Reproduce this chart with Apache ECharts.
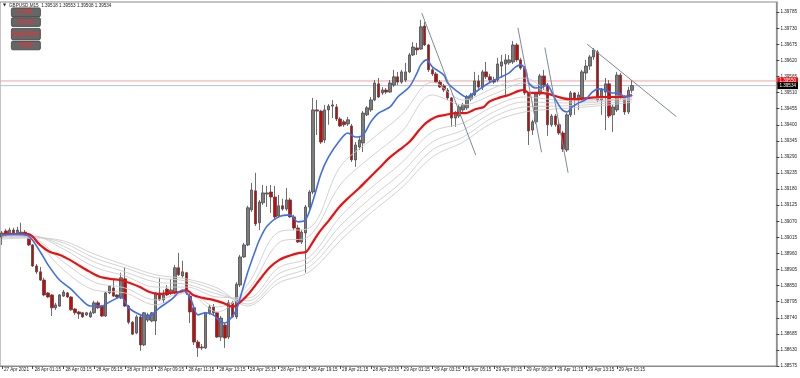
<!DOCTYPE html>
<html><head><meta charset="utf-8">
<script src="https://cdn.jsdelivr.net/npm/echarts@6/dist/echarts.min.js"></script>
<style>html,body{margin:0;padding:0;background:#fff}#c{width:800px;height:378px}</style>
</head><body><div id="c"></div>
<script>
// ---------- data ----------
const symbolTitle = 'GBPUSD,M15';
const lastOHLC = ['1.39518', '1.39553', '1.39508', '1.39534'];
const buttons = ['FSR', 'Pivot', 'SupDem', 'TMA'];
const xTickIdx = [0, 8, 16, 24, 32, 40, 48, 56, 64, 72, 80, 88, 96, 104, 112, 120, 128, 136, 144, 152, 160];
const xTickText = ['27 Apr 2021', '28 Apr 01:15', '28 Apr 03:15', '28 Apr 05:15', '28 Apr 07:15', '28 Apr 09:15',
  '28 Apr 11:15', '28 Apr 13:15', '28 Apr 15:15', '28 Apr 17:15', '28 Apr 19:15', '28 Apr 21:15', '28 Apr 23:15',
  '29 Apr 01:15', '29 Apr 03:15', '29 Apr 05:15', '29 Apr 07:15', '29 Apr 09:15', '29 Apr 11:15', '29 Apr 13:15', '29 Apr 15:15'];
const yTicks = [1.38575, 1.38630, 1.38685, 1.38740, 1.38795, 1.38850, 1.38905, 1.38960, 1.39015, 1.39070, 1.39125,
  1.39180, 1.39235, 1.39290, 1.39345, 1.39400, 1.39455, 1.39510, 1.39565, 1.39620, 1.39675, 1.39730, 1.39785];
const askPrice = 1.39550;
const bidPrice = 1.39534;
// [open, close, low, high]
const ohlc = [
[1.39016,1.39030,1.38989,1.39037],[1.39037,1.39023,1.39016,1.39044],[1.39026,1.39040,1.39023,1.39048],[1.39040,1.39030,1.39023,1.39048],
[1.39026,1.39040,1.39019,1.39051],[1.39026,1.39033,1.39023,1.39065],[1.39033,1.39023,1.39019,1.39040],[1.39023,1.38989,1.38985,1.39030],
[1.38989,1.38917,1.38914,1.38992],[1.38917,1.38897,1.38890,1.38924],[1.38897,1.38869,1.38866,1.38914],[1.38869,1.38818,1.38814,1.38877],
[1.38825,1.38811,1.38808,1.38828],[1.38818,1.38774,1.38746,1.38821],[1.38774,1.38784,1.38767,1.38791],[1.38780,1.38818,1.38777,1.38821],
[1.38814,1.38828,1.38811,1.38835],[1.38825,1.38811,1.38808,1.38828],[1.38811,1.38767,1.38764,1.38814],[1.38770,1.38757,1.38750,1.38774],
[1.38760,1.38753,1.38736,1.38764],[1.38757,1.38743,1.38740,1.38760],[1.38750,1.38757,1.38746,1.38760],[1.38743,1.38757,1.38740,1.38764],
[1.38757,1.38791,1.38753,1.38798],[1.38791,1.38774,1.38770,1.38798],[1.38780,1.38746,1.38743,1.38784],[1.38746,1.38825,1.38743,1.38828],
[1.38825,1.38848,1.38821,1.38852],[1.38842,1.38814,1.38811,1.38869],[1.38818,1.38811,1.38808,1.38821],[1.38808,1.38877,1.38804,1.38894],
[1.38873,1.38780,1.38777,1.38914],[1.38780,1.38725,1.38718,1.38784],[1.38725,1.38684,1.38681,1.38729],[1.38688,1.38743,1.38684,1.38750],
[1.38743,1.38647,1.38627,1.38750],[1.38647,1.38757,1.38643,1.38760],[1.38732,1.38750,1.38725,1.38757],[1.38729,1.38757,1.38725,1.38760],
[1.38729,1.38825,1.38681,1.38828],[1.38825,1.38801,1.38798,1.38877],[1.38801,1.38818,1.38791,1.38835],[1.38838,1.38818,1.38814,1.38852],
[1.38825,1.38835,1.38818,1.38873],[1.38825,1.38911,1.38821,1.38921],[1.38911,1.38887,1.38883,1.38962],[1.38883,1.38897,1.38877,1.38935],
[1.38894,1.38825,1.38818,1.38897],[1.38814,1.38760,1.38722,1.38828],[1.38774,1.38657,1.38647,1.38780],[1.38657,1.38637,1.38606,1.38664],
[1.38640,1.38637,1.38630,1.38650],[1.38637,1.38757,1.38633,1.38760],[1.38757,1.38777,1.38750,1.38784],[1.38777,1.38757,1.38746,1.38787],
[1.38757,1.38674,1.38671,1.38760],[1.38674,1.38739,1.38661,1.38746],[1.38715,1.38671,1.38637,1.38722],[1.38674,1.38791,1.38667,1.38801],
[1.38791,1.38743,1.38740,1.38798],[1.38743,1.38855,1.38736,1.38862],[1.38852,1.38948,1.38845,1.38955],[1.38948,1.38989,1.38945,1.38996],
[1.38989,1.39116,1.38985,1.39123],[1.39109,1.39177,1.39102,1.39201],[1.39174,1.39061,1.39054,1.39236],[1.39065,1.39136,1.39040,1.39143],
[1.39133,1.39167,1.39126,1.39194],[1.39163,1.39167,1.39119,1.39191],[1.39170,1.39153,1.39099,1.39194],[1.39153,1.39085,1.39075,1.39191],
[1.39088,1.39123,1.39082,1.39160],[1.39123,1.39112,1.39106,1.39147],[1.39112,1.39143,1.39106,1.39184],[1.39143,1.39085,1.39082,1.39150],
[1.39085,1.39047,1.39040,1.39092],[1.39047,1.38999,1.38996,1.39058],[1.38999,1.39033,1.38992,1.39040],[1.39030,1.39119,1.38894,1.39126],
[1.39119,1.39170,1.39102,1.39177],[1.39170,1.39451,1.39163,1.39492],[1.39451,1.39447,1.39365,1.39485],[1.39447,1.39341,1.39334,1.39451],
[1.39348,1.39451,1.39338,1.39468],[1.39451,1.39464,1.39400,1.39471],[1.39464,1.39468,1.39423,1.39485],[1.39461,1.39420,1.39413,1.39471],
[1.39420,1.39396,1.39393,1.39427],[1.39410,1.39400,1.39393,1.39417],[1.39403,1.39417,1.39396,1.39427],[1.39396,1.39280,1.39273,1.39403],
[1.39280,1.39331,1.39256,1.39341],[1.39324,1.39348,1.39314,1.39358],[1.39338,1.39440,1.39307,1.39447],[1.39434,1.39458,1.39430,1.39464],
[1.39451,1.39485,1.39444,1.39495],[1.39485,1.39543,1.39481,1.39553],[1.39540,1.39495,1.39492,1.39560],[1.39509,1.39519,1.39502,1.39529],
[1.39519,1.39512,1.39505,1.39526],[1.39512,1.39543,1.39509,1.39553],[1.39536,1.39564,1.39529,1.39588],[1.39564,1.39546,1.39536,1.39581],
[1.39546,1.39581,1.39540,1.39588],[1.39553,1.39581,1.39546,1.39612],[1.39581,1.39639,1.39577,1.39646],[1.39639,1.39666,1.39635,1.39683],
[1.39663,1.39656,1.39639,1.39680],[1.39659,1.39735,1.39656,1.39759],[1.39738,1.39673,1.39670,1.39752],[1.39673,1.39588,1.39581,1.39677],
[1.39588,1.39574,1.39567,1.39594],[1.39574,1.39546,1.39543,1.39581],[1.39546,1.39529,1.39526,1.39553],[1.39533,1.39519,1.39512,1.39540],
[1.39519,1.39492,1.39485,1.39526],[1.39492,1.39423,1.39393,1.39495],[1.39423,1.39440,1.39393,1.39447],[1.39430,1.39461,1.39423,1.39468],
[1.39451,1.39468,1.39444,1.39475],[1.39458,1.39495,1.39451,1.39502],[1.39488,1.39502,1.39481,1.39509],[1.39502,1.39550,1.39498,1.39581],
[1.39550,1.39529,1.39523,1.39570],[1.39529,1.39581,1.39519,1.39588],[1.39581,1.39564,1.39557,1.39615],[1.39564,1.39553,1.39546,1.39574],
[1.39553,1.39546,1.39540,1.39564],[1.39553,1.39608,1.39546,1.39629],[1.39601,1.39615,1.39560,1.39639],[1.39608,1.39622,1.39502,1.39642],
[1.39612,1.39622,1.39605,1.39639],[1.39615,1.39673,1.39608,1.39687],[1.39673,1.39622,1.39615,1.39680],[1.39622,1.39594,1.39588,1.39629],
[1.39594,1.39509,1.39502,1.39601],[1.39509,1.39379,1.39331,1.39512],[1.39382,1.39410,1.39365,1.39417],[1.39410,1.39505,1.39403,1.39512],
[1.39505,1.39567,1.39499,1.39574],[1.39567,1.39536,1.39519,1.39588],[1.39536,1.39400,1.39362,1.39543],[1.39400,1.39430,1.39393,1.39437],
[1.39430,1.39400,1.39393,1.39437],[1.39400,1.39372,1.39365,1.39417],[1.39372,1.39317,1.39307,1.39379],[1.39314,1.39434,1.39307,1.39440],
[1.39434,1.39509,1.39427,1.39516],[1.39509,1.39485,1.39434,1.39512],[1.39485,1.39502,1.39451,1.39512],[1.39492,1.39581,1.39478,1.39588],
[1.39577,1.39601,1.39553,1.39622],[1.39601,1.39632,1.39588,1.39639],[1.39632,1.39656,1.39622,1.39663],[1.39649,1.39485,1.39478,1.39656],
[1.39485,1.39519,1.39434,1.39526],[1.39512,1.39540,1.39382,1.39560],[1.39540,1.39430,1.39423,1.39553],[1.39434,1.39461,1.39375,1.39468],
[1.39451,1.39570,1.39444,1.39581],[1.39570,1.39495,1.39485,1.39577],[1.39495,1.39444,1.39434,1.39502],[1.39444,1.39518,1.39437,1.39530],
[1.39518,1.39534,1.39508,1.39553]
];
// fast MA (blue): [bar index, price]
const blueMA = [[0,1.39023],[4,1.39026],[7,1.39019],[10,1.38965],[12,1.38921],[15,1.38869],[18,1.38838],[20,1.38811],[23,1.38780],
  [26,1.38780],[28,1.38794],[31,1.38811],[33,1.38774],[36,1.38750],[38,1.38743],[41,1.38774],[44,1.38801],[47,1.38835],[49,1.38808],
  [51,1.38750],[53,1.38757],[55,1.38750],[57,1.38725],[58,1.38722],[60,1.38746],[61,1.38767],[62,1.38808],[64,1.38897],[66,1.38972],
  [67,1.39006],[69,1.39054],[72,1.39085],[75,1.39092],[77,1.39068],[79,1.39075],[81,1.39143],[83,1.39232],[85,1.39290],[88,1.39348],
  [90,1.39372],[92,1.39358],[94,1.39365],[96,1.39410],[98,1.39440],[101,1.39461],[103,1.39495],[106,1.39529],[108,1.39577],[109,1.39605],
  [110.5,1.39622],[112,1.39598],[115,1.39570],[116,1.39543],[119,1.39509],[121,1.39495],[122,1.39502],[124,1.39519],[126.7,1.39543],
  [129.3,1.39560],[131.9,1.39577],[133.7,1.39598],[135,1.39605],[136.3,1.39588],[137.1,1.39543],[138.9,1.39526],[140.6,1.39529],
  [141.9,1.39536],[142.8,1.39519],[144.1,1.39485],[145.8,1.39451],[147.1,1.39444],[148.4,1.39461],[150.1,1.39475],[151.8,1.39485],
  [153.6,1.39512],[155.3,1.39523],[157,1.39519],[158.8,1.39509],[160.5,1.39509],[162.2,1.39495],[164,1.39502]];
// slow MA (red)
const redMA = [[0,1.39026],[6.9,1.39026],[9.9,1.38989],[12.5,1.38965],[15.1,1.38955],[17.7,1.38938],[20.3,1.38917],[22.9,1.38897],
  [25.5,1.38880],[28.1,1.38873],[30.7,1.38869],[33.3,1.38859],[35.9,1.38845],[38.4,1.38828],[41,1.38821],[43.6,1.38825],[46.2,1.38828],
  [48,1.38835],[49.7,1.38818],[52.3,1.38808],[54.9,1.38801],[57.5,1.38791],[60.1,1.38777],[61.8,1.38791],[64.4,1.38825],[67,1.38869],
  [69.6,1.38911],[72.2,1.38938],[74.8,1.38952],[77.4,1.38962],[79.1,1.38965],[80.9,1.38999],[82.6,1.39033],[85.2,1.39075],[87.8,1.39119],
  [90.4,1.39153],[93,1.39184],[95.6,1.39218],[98.2,1.39252],[100.8,1.39287],[103.4,1.39314],[106,1.39341],[108.6,1.39382],[110.3,1.39406],
  [112.9,1.39427],[115.5,1.39434],[118.1,1.39440],[120.7,1.39440],[123.3,1.39454],[125.4,1.39461],[126.7,1.39478],[129.3,1.39492],
  [131.9,1.39502],[134.5,1.39516],[135.8,1.39519],[137.1,1.39509],[139.7,1.39509],[142.3,1.39505],[144.9,1.39495],[147.5,1.39488],
  [150.1,1.39488],[152.7,1.39492],[155.3,1.39495],[158.8,1.39495],[161.4,1.39495],[164,1.39502]];
// ribbon of grey MAs, sampled at grayIdx
const grayIdx = [0, 8, 16, 24, 32, 40, 48, 56, 64, 72, 80, 88, 96, 104, 112, 120, 128, 136, 144, 152, 160, 164];
const grayA = [1.39026,1.39006,1.38904,1.38835,1.38825,1.38784,1.38825,1.38760,1.38855,1.39033,1.39047,1.39256,1.39348,1.39434,1.39546,1.39485,1.39526,1.39560,1.39498,1.39488,1.39498,1.39498];
const grayB = [1.39023,1.39013,1.38931,1.38862,1.38842,1.38801,1.38828,1.38777,1.38835,1.38996,1.39019,1.39194,1.39290,1.39376,1.39502,1.39468,1.39505,1.39543,1.39495,1.39485,1.39495,1.39495];
const grayC = [1.39019,1.39019,1.38975,1.38914,1.38883,1.38845,1.38845,1.38811,1.38808,1.38911,1.38948,1.39085,1.39184,1.39270,1.39376,1.39406,1.39464,1.39495,1.39485,1.39481,1.39488,1.39492];
const grayD = [1.39016,1.39019,1.38985,1.38931,1.38897,1.38862,1.38855,1.38821,1.38798,1.38890,1.38931,1.39054,1.39150,1.39236,1.39341,1.39382,1.39444,1.39478,1.39475,1.39475,1.39485,1.39488];
const grayE = [1.39013,1.39016,1.38996,1.38945,1.38911,1.38877,1.38866,1.38832,1.38787,1.38873,1.38914,1.39026,1.39119,1.39204,1.39314,1.39358,1.39427,1.39461,1.39464,1.39468,1.39478,1.39485];
const grayF = [1.39009,1.39013,1.39003,1.38958,1.38921,1.38887,1.38873,1.38842,1.38780,1.38859,1.38897,1.39003,1.39099,1.39184,1.39290,1.39341,1.39410,1.39444,1.39454,1.39461,1.39471,1.39478];
// hand-drawn trend lines: [[bar index, price], [bar index, price]]
const trendLines = [
  [[109.26, 1.39782], [123.28, 1.39297]],
  [[134.27, 1.39732], [140.42, 1.39306]],
  [[141.28, 1.39664], [147.33, 1.39236]],
  [[152.26, 1.39676], [175.48, 1.39428]]
];

// ---------- chart ----------
const FONT = 'Liberation Sans, Arial, sans-serif';
const chart = echarts.init(document.getElementById('c'), null, {renderer: 'canvas'});
const series = [];
series.push({
  type: 'candlestick', name: 'price', z: 2, clip: false,
  encode: {x: 0, y: [1, 2, 3, 4]},
  data: ohlc.map((d, i) => [i, d[0], d[1], d[2], d[3]]),
  barWidth: 3,
  itemStyle: {color: '#7c7c7c', color0: '#dd0000', borderColor: '#4a4a4a', borderColor0: '#4a4a4a', borderWidth: 0.8}
});
// bid / ask price lines: a flat line series across the whole plot, with a price box at the axis
const lastX = 201.53;
function priceLine(price, lineColor, boxColor) {
  return {
    type: 'line', z: 1, symbol: 'none', silent: true, clip: false,
    lineStyle: {color: lineColor, width: 1},
    data: [[-0.5, price], [lastX, price]],
    endLabel: {show: true, formatter: price.toFixed(5), color: '#fff', backgroundColor: boxColor,
      fontSize: 4.6, fontFamily: FONT, padding: [1, 2, 1, 2], distance: 1}
  };
}
series.push(priceLine(askPrice, '#f3a0a0', '#ff0000'));
series.push(priceLine(bidPrice, '#b9c2d0', '#000000'));
[grayA, grayB, grayC, grayD, grayE, grayF].forEach((g) => {
  series.push({type: 'line', z: 3, symbol: 'none', smooth: 0.35, silent: true,
    lineStyle: {color: '#cdcdcd', width: 0.9},
    data: grayIdx.map((ix, j) => [ix, g[j]])});
});
series.push({type: 'line', z: 4, symbol: 'none', smooth: 0.3, silent: true, lineStyle: {color: '#ee1010', width: 2.2}, data: redMA});
series.push({type: 'line', z: 5, symbol: 'none', smooth: 0.3, silent: true, lineStyle: {color: '#3f6ee6', width: 1.6}, data: blueMA});
trendLines.forEach(t => {
  series.push({type: 'line', z: 6, symbol: 'none', silent: true, lineStyle: {color: '#7d8a99', width: 1}, data: t});
});

const graphics = [];
graphics.push({type: 'text', left: 3, top: 3, z: 100, style: {text: '\u25BC', fontSize: 4, fill: '#222', fontFamily: 'DejaVu Sans'}});
graphics.push({type: 'text', left: 9, top: 3, z: 100, style: {text: symbolTitle + '  ' + lastOHLC.join(' '), fontSize: 4.6, fill: '#222', fontFamily: FONT}});
const btnBoxes = [[7.5, 9], [17.3, 8.7], [28, 11.3], [40.7, 8.7]];
buttons.forEach((b, k) => {
  graphics.push({type: 'rect', left: 11, top: btnBoxes[k][0], z: 100,
    shape: {width: 29, height: btnBoxes[k][1], r: 1.5},
    style: {fill: '#666666', stroke: '#404040', lineWidth: 0.8}});
  graphics.push({type: 'text', z: 101, x: 25.5, y: btnBoxes[k][0] + btnBoxes[k][1] / 2,
    style: {text: b, align: 'center', verticalAlign: 'middle', fontSize: 7, fill: '#ff2a2a', fontFamily: FONT}});
});

chart.setOption({
  animation: false,
  backgroundColor: '#ffffff',
  grid: {left: 0, right: 22, top: 2, bottom: 12, show: true, borderColor: '#8a8a8a', borderWidth: 1, backgroundColor: '#ffffff'},
  xAxis: {
    type: 'value', min: -0.5, max: lastX,
    splitLine: {show: false},
    axisLine: {show: true, onZero: false, lineStyle: {color: '#8a8a8a', width: 1}},
    axisTick: {show: true, customValues: xTickIdx, length: 3, lineStyle: {color: '#444'}},
    axisLabel: {show: true, customValues: xTickIdx, align: 'left', margin: 1.5, padding: [0, 0, 0, 2],
      fontSize: 4.6, fontFamily: FONT, color: '#222',
      formatter: v => { const k = xTickIdx.indexOf(Math.round(v)); return k >= 0 ? xTickText[k] : ''; }}
  },
  yAxis: {
    type: 'value', position: 'right', min: 1.38575, max: 1.39820, scale: true,
    splitLine: {show: false},
    axisLine: {show: true, onZero: false, lineStyle: {color: '#8a8a8a', width: 1.5}},
    axisTick: {show: true, customValues: yTicks, length: 3, lineStyle: {color: '#444'}},
    axisLabel: {show: true, customValues: yTicks, margin: 4, fontSize: 4.6, fontFamily: FONT, color: '#222',
      formatter: v => Number(v).toFixed(5)}
  },
  series: series,
  graphic: graphics
});
</script></body></html>
